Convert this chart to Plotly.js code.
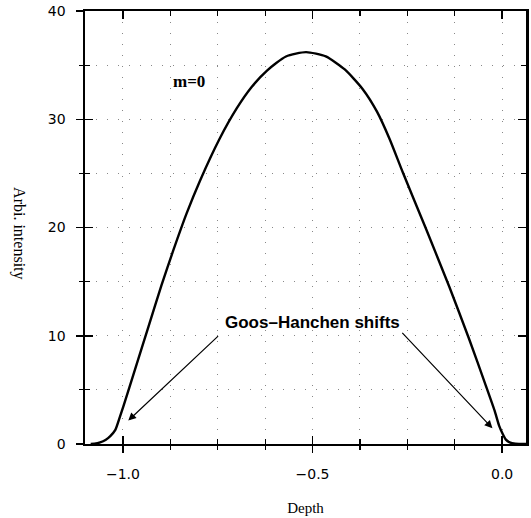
<!DOCTYPE html>
<html>
<head>
<meta charset="utf-8">
<script src="https://cdn.plot.ly/plotly-3.0.1.min.js"></script>
<style>html,body{margin:0;padding:0;background:#fff;}#chart{width:531px;height:518px;}</style>
</head>
<body>
<div id="chart"></div>
<script>
// Data
var depth = [-1.085, -1.075, -1.06, -1.045, -1.034, -1.02, -1.008, -0.999, -0.968, -0.933, -0.898, -0.867, -0.832, -0.797, -0.745, -0.70, -0.66, -0.62, -0.57, -0.517, -0.465, -0.415, -0.368, -0.33, -0.297, -0.262, -0.201, -0.139, -0.087, -0.043, -0.02, -0.008, 0.002, 0.01, 0.02, 0.035, 0.063];
var intensity = [0, 0.02, 0.15, 0.4, 0.7, 1.3, 2.5, 3.45, 6.9, 10.8, 14.7, 17.9, 21.3, 24.3, 28.2, 31.0, 33.0, 34.5, 35.8, 36.2, 35.8, 34.6, 32.8, 30.7, 28.2, 25.1, 19.9, 14.5, 9.7, 5.4, 3.1, 1.7, 0.9, 0.4, 0.15, 0.03, 0.0];
var xTickVals = [-1.0, -0.5, 0.0];
var xTickText = ['\u22121.0', '\u22120.5', '0.0'];
var yTickVals = [0, 10, 20, 30, 40];
var yTickText = ['0', '10', '20', '30', '40'];
var modeLabel = 'm=0';
var shiftLabel = 'Goos\u2013Hanchen shifts';
var xTitle = 'Depth';
var yTitle = 'Arbi. intensity';

var tickFont = {family: 'DejaVu Sans, sans-serif', size: 14, color: '#000'};
var gridDash = '1px,10px';
var gridColor = '#888';

var traces = [
  {x: depth, y: intensity, type: 'scatter', mode: 'lines',
   line: {color: '#000', width: 2.4, shape: 'spline', smoothing: 0.6},
   xaxis: 'x', yaxis: 'y', hoverinfo: 'skip', showlegend: false},
  {x: depth, y: intensity, type: 'scatter', mode: 'lines',
   line: {color: 'rgba(0,0,0,0)', width: 0},
   xaxis: 'x2', yaxis: 'y2', hoverinfo: 'skip', showlegend: false}
];

var xr = [-1.1, 0.063], yr = [0, 40];

var layout = {
  width: 531, height: 518,
  margin: {l: 85, r: 5, t: 11, b: 74},
  paper_bgcolor: '#fff', plot_bgcolor: '#fff',
  showlegend: false,
  xaxis: {
    range: xr, tickvals: xTickVals, ticktext: xTickText,
    ticks: 'inside', ticklen: 8, tickwidth: 1.5, tickcolor: '#000',
    mirror: 'ticks', showline: true, linewidth: 2.2, linecolor: '#000',
    showgrid: true, gridcolor: gridColor, gridwidth: 1, griddash: gridDash,
    zeroline: false, tickfont: tickFont, ticklabelstandoff: 16,
    minor: {dtick: 0.125, tick0: 0, ticks: 'inside', ticklen: 5, tickwidth: 1.2, tickcolor: '#000',
            showgrid: true, gridcolor: gridColor, gridwidth: 1, griddash: gridDash},
    title: {text: xTitle, font: {family: 'Liberation Serif, serif', size: 15, color: '#000'}, standoff: 22}
  },
  yaxis: {
    range: yr, tickvals: yTickVals, ticktext: yTickText,
    ticks: 'inside', ticklen: 8, tickwidth: 1.5, tickcolor: '#000',
    mirror: 'ticks', showline: true, linewidth: 2.5, linecolor: '#000',
    showgrid: true, gridcolor: gridColor, gridwidth: 1, griddash: gridDash,
    zeroline: false, tickfont: tickFont, ticklabelstandoff: 14,
    minor: {dtick: 5, tick0: 0, ticks: 'inside', ticklen: 5, tickwidth: 1.2, tickcolor: '#000',
            showgrid: true, gridcolor: gridColor, gridwidth: 1, griddash: gridDash}
  },
  xaxis2: {
    range: xr, overlaying: 'x', side: 'bottom', anchor: 'y2',
    tickvals: xTickVals, ticks: 'outside', ticklen: 8, tickwidth: 1.5, tickcolor: '#000',
    showticklabels: false, showline: false, showgrid: false, zeroline: false,
    minor: {dtick: 0.125, tick0: 0, ticks: 'outside', ticklen: 5, tickwidth: 1.2, tickcolor: '#000', showgrid: false}
  },
  yaxis2: {
    range: yr, overlaying: 'y', side: 'left', anchor: 'x2',
    tickvals: yTickVals, ticks: 'outside', ticklen: 8, tickwidth: 1.5, tickcolor: '#000',
    showticklabels: false, showline: false, showgrid: false, zeroline: false,
    minor: {dtick: 5, tick0: 0, ticks: 'outside', ticklen: 5, tickwidth: 1.2, tickcolor: '#000', showgrid: false}
  },
  annotations: [
    {text: yTitle, xref: 'paper', yref: 'y', x: -0.175, y: 19.5, textangle: 90,
     showarrow: false, font: {family: 'Liberation Serif, serif', size: 16, color: '#000'}},
    {text: '<b>' + modeLabel + '</b>', xref: 'x', yref: 'y', x: -0.826, y: 33.5,
     showarrow: false, font: {family: 'Liberation Serif, serif', size: 17, color: '#000'}},
    {text: '<b>' + shiftLabel + '</b>', xref: 'x', yref: 'y', x: -0.5, y: 11.2,
     showarrow: false, font: {family: 'Liberation Sans, sans-serif', size: 17, color: '#000'}},
    {text: '', xref: 'x', yref: 'y', x: -0.986, y: 2.16, axref: 'x', ayref: 'y', ax: -0.745, ay: 10.1,
     showarrow: true, arrowhead: 2, arrowsize: 1.3, arrowwidth: 1.2, arrowcolor: '#000', standoff: 0},
    {text: '', xref: 'x', yref: 'y', x: -0.0255, y: 1.45, axref: 'x', ayref: 'y', ax: -0.267, ay: 10.4,
     showarrow: true, arrowhead: 2, arrowsize: 1.3, arrowwidth: 1.2, arrowcolor: '#000', standoff: 0}
  ]
};

Plotly.newPlot('chart', traces, layout, {staticPlot: true, displayModeBar: false});
</script>
</body>
</html>
